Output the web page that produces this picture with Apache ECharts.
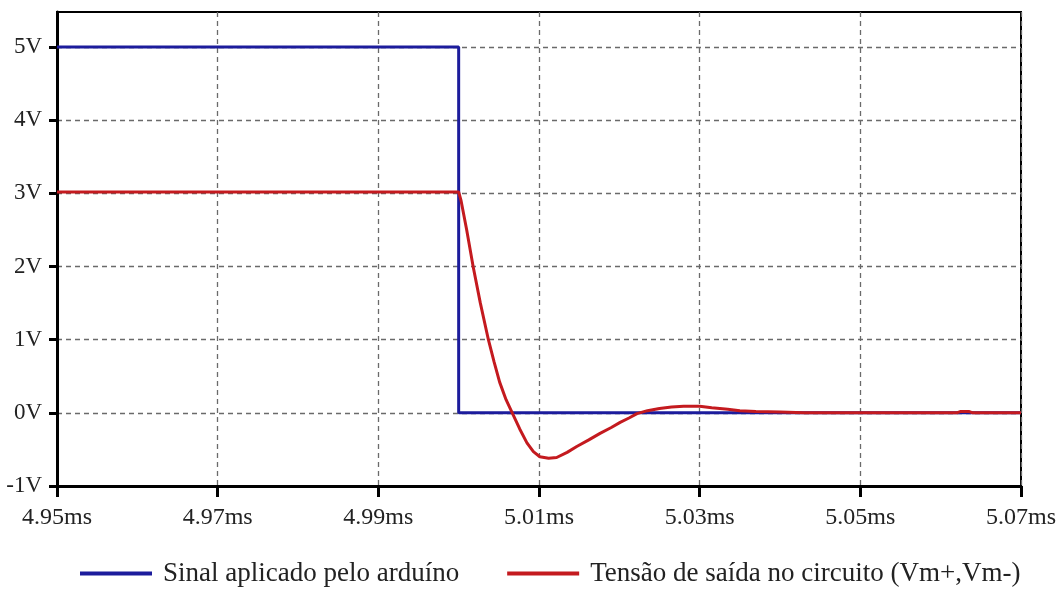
<!DOCTYPE html>
<html>
    <head>
        <title>Sinal aplicado x tensão de saída</title>
        <meta charset="utf-8">
        <script src="https://cdn.jsdelivr.net/npm/echarts@6/dist/echarts.min.js"></script>
    </head>

    <body style="margin:0;">
        <div id="chart" style="width:1061px; height:589px;"></div>

        <script>
            // dados (tempo em ms, tensão em V)
            var blueTime = [4.95, 5.00, 5.00, 5.07];
            var blueVolt = [5, 5, 0, 0];

            var redTime = [4.95, 5.000, 5.0003, 5.0010, 5.0018, 5.0027, 5.0037, 5.0044, 5.0051, 5.0059,
                           5.0068, 5.0076, 5.0085, 5.0093, 5.0101, 5.0112, 5.0122, 5.0135, 5.0147, 5.0162,
                           5.0176, 5.0190, 5.0201, 5.0212, 5.0222, 5.0235, 5.0250, 5.0265, 5.0280, 5.0300,
                           5.0315, 5.0335, 5.0350, 5.0370, 5.0400, 5.0430, 5.0620, 5.0625, 5.0635, 5.0640, 5.07];
            var redVolt = [3.02, 3.02, 2.90, 2.50, 2.00, 1.50, 1.00, 0.70, 0.42, 0.18,
                           -0.03, -0.22, -0.41, -0.53, -0.60, -0.62, -0.61, -0.54, -0.46, -0.37,
                           -0.28, -0.20, -0.13, -0.07, -0.01, 0.03, 0.06, 0.08, 0.09, 0.09,
                           0.07, 0.05, 0.03, 0.02, 0.01, 0.00, 0.00, 0.02, 0.02, 0.00, 0.00];

            var xTicks = [4.95, 4.97, 4.99, 5.01, 5.03, 5.05, 5.07];
            var yTicks = [-1, 0, 1, 2, 3, 4, 5];

            var seriesNames = ['Sinal aplicado pelo arduíno', 'Tensão de saída no circuito (Vm+,Vm-)'];

            function pairs(xs, ys) {
                var out = [];
                for (var i = 0; i < xs.length; i++) out.push([xs[i], ys[i]]);
                return out;
            }

            var font = 'Liberation Serif';
            var gridLine = {show: true, lineStyle: {color: '#6a6a6a', width: 1.3, type: [5, 4]}};

            var chart = echarts.init(document.getElementById('chart'), null, {renderer: 'canvas'});
            chart.setOption({
                animation: false,
                backgroundColor: '#fff',
                grid: {left: 57, top: 12, right: 40, bottom: 103, show: true, borderColor: '#000', borderWidth: 2},
                legend: {
                    left: 75, top: 555,
                    icon: 'rect', itemWidth: 72, itemHeight: 4, itemGap: 48,
                    textStyle: {fontFamily: font, fontSize: 27, color: '#222', padding: [0, 0, 0, 6]},
                    data: seriesNames
                },
                xAxis: {
                    type: 'value', min: 4.95, max: 5.07, interval: 0.02,
                    axisLine: {show: true, onZero: false, lineStyle: {color: '#000', width: 3}},
                    axisTick: {show: true, length: 11, lineStyle: {color: '#000', width: 3}},
                    axisLabel: {
                        margin: 20, fontFamily: font, fontSize: 24, color: '#222',
                        customValues: xTicks,
                        formatter: function (v) { return v.toFixed(2) + 'ms'; }
                    },
                    splitLine: gridLine
                },
                yAxis: {
                    type: 'value', min: -1, max: 5.48, interval: 1,
                    axisLine: {show: true, onZero: false, lineStyle: {color: '#000', width: 3}},
                    axisTick: {show: true, length: 8, customValues: yTicks, lineStyle: {color: '#000', width: 3}},
                    axisLabel: {
                        margin: 15, fontFamily: font, fontSize: 23, color: '#222',
                        customValues: yTicks,
                        formatter: function (v) { return Math.round(v) + 'V'; }
                    },
                    splitLine: gridLine
                },
                series: [
                    {
                        name: seriesNames[0], type: 'line', showSymbol: false,
                        color: '#1c1c9c', lineStyle: {width: 3},
                        data: pairs(blueTime, blueVolt)
                    },
                    {
                        name: seriesNames[1], type: 'line', showSymbol: false,
                        color: '#c41a1f', lineStyle: {width: 3},
                        data: pairs(redTime, redVolt)
                    }
                ]
            });
        </script>
    </body>
</html>
